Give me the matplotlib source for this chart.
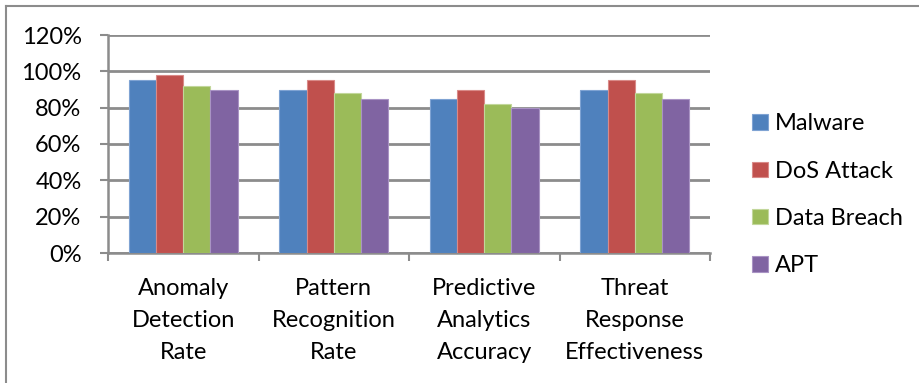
import matplotlib
matplotlib.use("Agg")
import matplotlib.pyplot as plt
import numpy as np
from matplotlib.lines import Line2D

categories = ["Anomaly\nDetection\nRate", "Pattern\nRecognition\nRate",
              "Predictive\nAnalytics\nAccuracy", "Threat\nResponse\nEffectiveness"]
series_names = ["Malware", "DoS Attack", "Data Breach", "APT"]
malware = [95, 90, 85, 90]
dos_attack = [98, 95, 90, 95]
data_breach = [92, 88, 82, 88]
apt = [90, 85, 80, 85]
y_ticks = [0, 20, 40, 60, 80, 100, 120]

values = [malware, dos_attack, data_breach, apt]
colors = ["#4F81BD", "#C0504D", "#9BBB59", "#8064A2"]
edges = ["#7FA3D3", "#D98A88", "#C2D79B", "#A993C4"]

plt.rcParams['font.family'] = ['Lato', 'DejaVu Sans']
FS = 17

W, H = 919, 383
fig = plt.figure(figsize=(W / 100, H / 100), dpi=100)

def fx(px):
    return px / W

def fy(py):
    return 1 - py / H

ax = fig.add_axes([fx(108), fy(253), fx(710) - fx(108), fy(35) - fy(253)])

x = np.arange(len(categories))
bw = 0.181
for i, (name, vals) in enumerate(zip(series_names, values)):
    ax.bar(x + (i - 1.5) * bw, vals, width=bw, color=colors[i],
           edgecolor=edges[i], linewidth=0.8, label=name, zorder=3)

ax.set_xlim(-0.5, len(categories) - 0.5)
ax.set_ylim(0, 120)
ax.set_yticks(y_ticks)
ax.set_yticklabels([f"{v}%" for v in y_ticks], fontsize=FS)
ax.yaxis.grid(True, color="#8C8C8C", linewidth=2.0, zorder=0)
ax.set_axisbelow(True)

ax.set_xticks(x)
ax.set_xticklabels(categories, fontsize=FS, linespacing=1.66)
ax.tick_params(axis='x', which='major', length=0, pad=18)
ax.set_xticks(np.arange(-0.5, len(categories), 1.0), minor=True)
ax.tick_params(axis='x', which='minor', length=6, width=1.5, color="#8C8C8C", direction='out')
ax.tick_params(axis='y', length=6, width=1.5, color="#8C8C8C", pad=13)

for s in ["top", "right"]:
    ax.spines[s].set_visible(False)
for s in ["left", "bottom"]:
    ax.spines[s].set_color("#8C8C8C")
    ax.spines[s].set_linewidth(1.8)

leg = fig.legend(loc="upper left", bbox_to_anchor=(fx(743), fy(104)),
                 frameon=False, fontsize=FS, handlelength=0.64, handleheight=0.64,
                 handletextpad=0.3, labelspacing=1.11, borderaxespad=0)

# outer frame (top and left edges visible)
fig.add_artist(Line2D([fx(6), 1.0], [fy(6), fy(6)], color="#8C8C8C", linewidth=1.5))
fig.add_artist(Line2D([fx(6), fx(6)], [fy(6), 0.0], color="#8C8C8C", linewidth=1.5))

fig.savefig("out.png", dpi=100)
